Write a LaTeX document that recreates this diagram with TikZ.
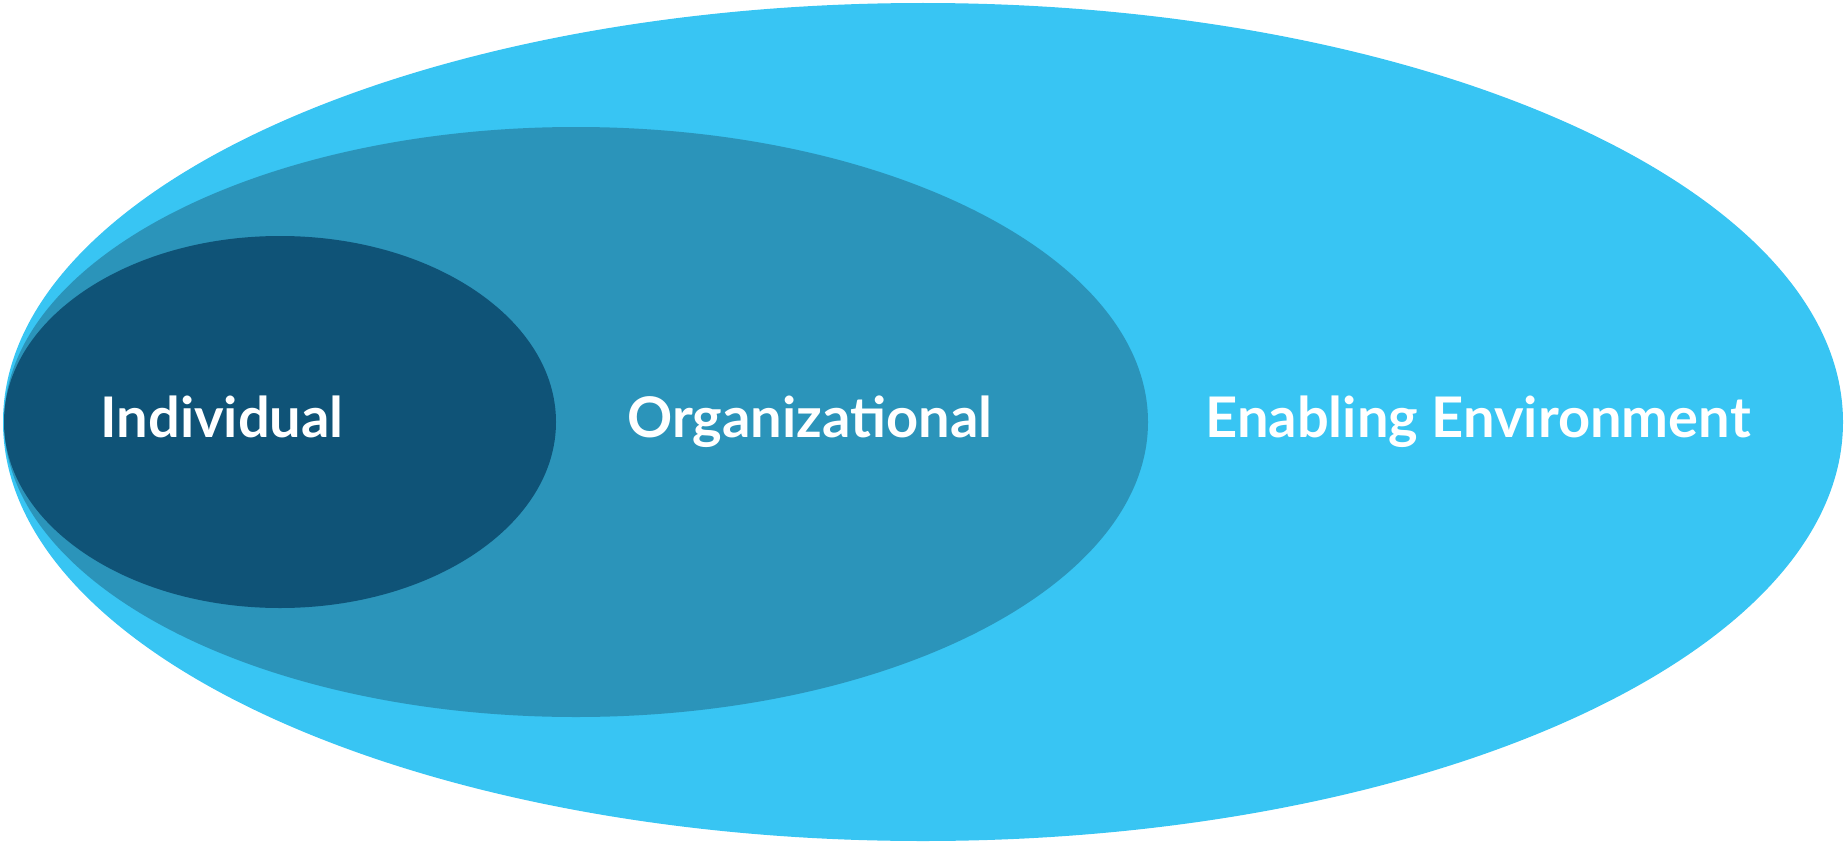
\documentclass[tikz,border=0pt]{standalone}
\usepackage{fontspec}
\setmainfont{Lato}
\definecolor{outerc}{HTML}{38C5F3}
\definecolor{midc}{HTML}{2B94BA}
\definecolor{innerc}{HTML}{0F5377}
\tikzset{lbl/.style={text=white,font=\fontsize{56}{60}\selectfont\bfseries,anchor=base,inner sep=0pt}}
\begin{document}
\begin{tikzpicture}[x=1pt,y=-1pt]
\useasboundingbox (0,0) rectangle (1844,843);
\fill[outerc] (923,422) ellipse [x radius=920, y radius=419];
\fill[midc] (576,422) ellipse [x radius=572, y radius=295];
\fill[innerc] (280,422) ellipse [x radius=276, y radius=186];
\node[lbl] (ind) at (222,437) {Individual};
\node[lbl] (org) at (810,437) {Organizational};
\node[lbl] (env) at (1478,437) {Enabling Environment};
\end{tikzpicture}
\end{document}
